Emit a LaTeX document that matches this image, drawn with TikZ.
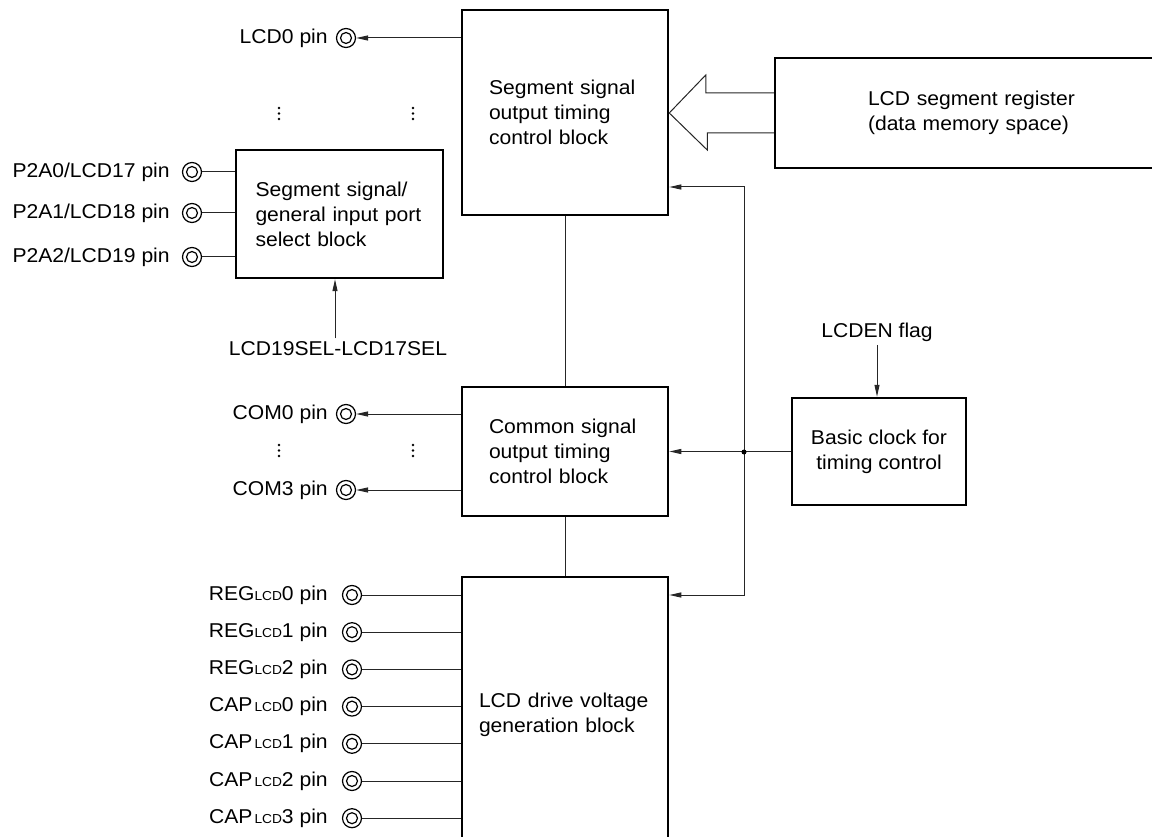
\documentclass[tikz,border=0pt]{standalone}
\usepackage{fontspec}
\setmainfont{Liberation Sans}[FakeStretch=1.055]
\usetikzlibrary{arrows.meta, positioning, calc}

\newcommand{\lcdsub}{{\fontsize{13}{12}\selectfont LCD}}

\begin{document}
\begin{tikzpicture}[
        x=1pt, y=-1pt,
        font=\fontsize{20}{25}\selectfont,
        block/.style={rectangle, draw=black, line width=2.5pt, fill=white, align=left, inner sep=0pt},
        pinmark/.style={circle, draw=black, line width=1.2pt, minimum size=19pt, inner sep=0pt,
            path picture={\draw[line width=1.2pt] (path picture bounding box.center) circle (5.5pt);}},
        dotsmark/.style={minimum width=4pt, minimum height=16pt, inner sep=0pt,
            path picture={\foreach \d in {-5.5,0,5.5} \fill ([yshift=\d pt]path picture bounding box.center) circle (1.3pt);}},
        pintext/.style={inner sep=2pt},
        sig/.style={-{Triangle[length=12pt, width=5pt]}, line width=1pt, draw=black!85},
        wire/.style={line width=1pt, draw=black!85},
        hollow/.style={line width=1pt, draw=black!85, line join=miter}
    ]
        \useasboundingbox (0,0) rectangle (1152,837);

        % ----------------------------------------------------
        % BLOCKS
        % ----------------------------------------------------
        \node[block, minimum width=206pt, minimum height=205pt, text width=152pt] (segout) at (565, 112.5) {
            Segment signal \\
            output timing \\
            control block
        };

        \node[block, minimum width=396pt, minimum height=110pt, text width=210pt] (segreg) at (973, 113) {
            LCD segment register \\
            (data memory space)
        };

        \node[block, minimum width=207pt, minimum height=128pt, text width=168pt] (sel) at (339.5, 214) {
            Segment signal/ \\
            general input port \\
            select block
        };

        \node[block, minimum width=206pt, minimum height=129pt, text width=152pt] (com) at (565, 451.5) {
            Common signal \\
            output timing \\
            control block
        };

        \node[block, minimum width=174pt, minimum height=107pt, align=center] (clk) at (879, 451.5) {
            Basic clock for \\
            timing control
        };

        \node[block, minimum width=206pt, minimum height=275pt, text width=172pt] (drv) at (565, 714.5) {
            LCD drive voltage \\
            generation block
        };

        % ----------------------------------------------------
        % CONTROL SIGNALS
        % ----------------------------------------------------
        \node (lcden) at (877, 332) {LCDEN flag};
        \node (selsig) at (338, 349) {LCD19SEL-LCD17SEL};

        \coordinate (jn) at (744, 452);
        \coordinate (jtop) at (744, 187);
        \coordinate (jbot) at (744, 595);

        \draw[sig] (lcden) -- (lcden |- clk.north);
        \draw[sig] ([xshift=-3pt]selsig.north) -- ([xshift=-3pt]selsig.north |- sel.south);
        \draw[sig] (clk.west) -- (com.east);
        \draw[sig] (jn) -- (jtop) -- (jtop -| segout.east);
        \draw[sig] (jn) -- (jbot) -- (jbot -| drv.east);
        \fill (jn) circle (2.5);

        \draw[wire] (segout) -- (com);
        \draw[wire] (com) -- (drv);

        % hollow data arrow
        \draw[hollow] ([yshift=20pt]segreg.west) -- ++(-68,0) -- ++(0,-18) -- (segout.east |- segreg.west)
            -- ++(38,37) -- ++(0,-17) -- ([yshift=-20pt]segreg.west);

        % ----------------------------------------------------
        % PINS
        % ----------------------------------------------------
        \node[pinmark] (lcd0) at (346, 38) {};
        \node[pintext, left=6pt of lcd0] (lcd0-txt) {LCD0 pin};
        \draw[sig] (segout.west |- lcd0) -- (lcd0);

        \node[pinmark] (com0) at (346, 414) {};
        \node[pintext, left=6pt of com0] (com0-txt) {COM0 pin};
        \draw[sig] (com.west |- com0) -- (com0);

        \node[pinmark] (com3) at (346, 490) {};
        \node[pintext, left=6pt of com3] (com3-txt) {COM3 pin};
        \draw[sig] (com.west |- com3) -- (com3);

        \foreach \nm/\lbl/\yy in {p2a0/{P2A0/LCD17}/172, p2a1/{P2A1/LCD18}/213, p2a2/{P2A2/LCD19}/257} {
            \node[pinmark] (\nm) at (192, \yy) {};
            \node[pintext, left=10pt of \nm] (\nm-txt) {\lbl{} pin};
            \draw[wire] (\nm) -- (\nm -| sel.west);
        }

        \foreach \nm/\lbl [count=\i from 0] in {reg0/{REG\lcdsub0}, reg1/{REG\lcdsub1}, reg2/{REG\lcdsub2},
                cap0/{CAP\kern2pt\lcdsub0}, cap1/{CAP\kern2pt\lcdsub1}, cap2/{CAP\kern2pt\lcdsub2}, cap3/{CAP\kern2pt\lcdsub3}} {
            \node[pinmark] (\nm) at (352, {595+37.2*\i}) {};
            \node[pintext, left=12pt of \nm] (\nm-txt) {\lbl{} pin};
            \draw[wire] (\nm) -- (\nm -| drv.west);
        }

        % ellipsis marks
        \node[dotsmark] (vd1) at (279, 113.5) {};
        \node[dotsmark] (vd2) at (413, 113.5) {};
        \node[dotsmark] (vd3) at (279, 450.5) {};
        \node[dotsmark] (vd4) at (413, 450.5) {};

    \end{tikzpicture}
\end{document}
